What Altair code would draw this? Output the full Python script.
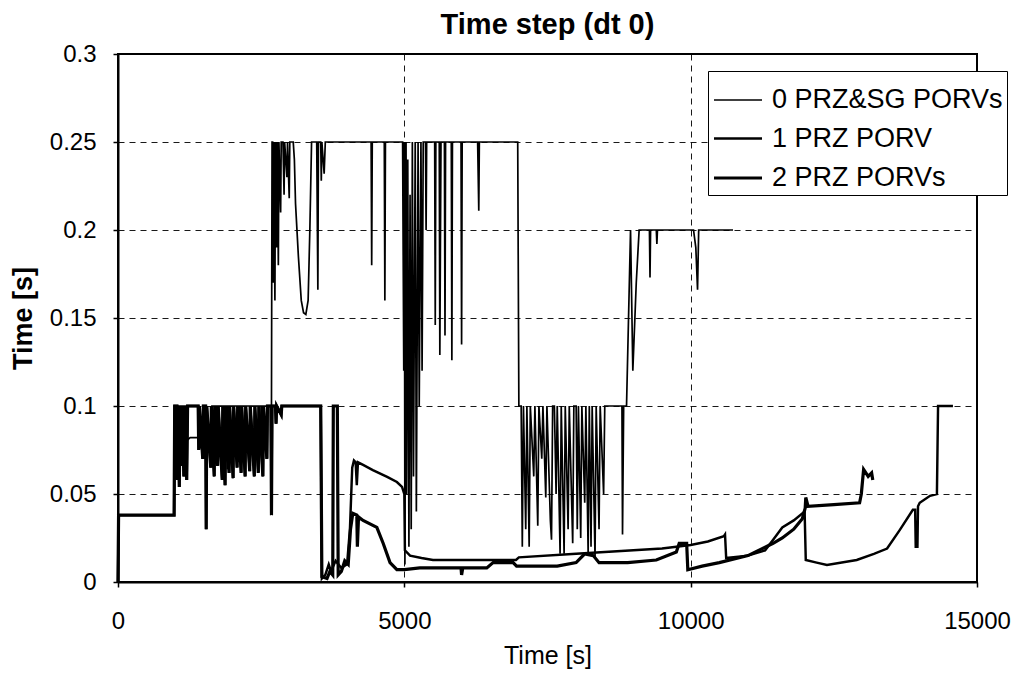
import altair as alt
import pandas as pd

series_names = ["0 PRZ&SG PORVs", "1 PRZ PORV", "2 PRZ PORVs"]
x_ticks = [0, 5000, 10000, 15000]
y_ticks = [0, 0.05, 0.1, 0.15, 0.2, 0.25, 0.3]

# shared start (0 - 3560 s)
start_t = [0, 10, 980, 990, 1030, 1040, 1050, 1070, 1085, 1110, 1120, 1150, 1165, 1200, 1215,
           1400, 1410, 1420, 1480, 1490, 1530, 1540, 1550, 1620, 1630, 1680, 1690, 1740, 1750,
           1820, 1830, 1870, 1880, 1940, 1950, 2010, 2020, 2080, 2090, 2150, 2160, 2220, 2230,
           2300, 2310, 2380, 2390, 2450, 2460, 2530, 2540, 2600, 2610, 2670, 2680]
start_y = [0.0, 0.038, 0.038, 0.1, 0.1, 0.058, 0.1, 0.054, 0.1, 0.066, 0.1, 0.06, 0.1, 0.058, 0.1,
           0.1, 0.075, 0.1, 0.07, 0.1, 0.1, 0.03, 0.1, 0.065, 0.1, 0.06, 0.1, 0.066, 0.1,
           0.058, 0.1, 0.055, 0.1, 0.062, 0.1, 0.059, 0.1, 0.065, 0.1, 0.062, 0.1, 0.06, 0.1,
           0.063, 0.1, 0.06, 0.1, 0.062, 0.1, 0.06, 0.1, 0.07, 0.1, 0.1, 0.038]

# 0 PRZ&SG PORVs (thin)
thin_t = [0, 10, 980, 990, 1060, 1070, 1080, 1180, 1190, 1260, 1600, 1620, 1640, 1700, 1710, 1720,
          1900, 1910, 1920, 2100, 2110, 2120, 2300, 2310, 2320, 2500, 2510, 2520, 2680,
          2690, 2700, 2710, 2720, 2740, 2750, 2770, 2780, 2800, 2810, 2840, 2850, 2880, 2900, 2910,
          2950, 2960, 2990, 3000, 3060, 3080, 3100, 3150, 3200, 3240, 3280, 3320, 3350, 3380,
          3470, 3490, 3500, 3540, 3550, 3560, 3600, 3620, 4420, 4430, 4440, 4650, 4660, 4670,
          4970, 4990, 5000, 5010, 5030, 5040, 5060, 5080, 5100, 5120, 5140, 5160, 5190, 5210,
          5240, 5260, 5290, 5310, 5330, 5370, 5380, 5390, 5530, 5540, 5550, 5610, 5620, 5640,
          5700, 5710, 5720, 5820, 5830, 5840, 5990, 6000, 6010, 6280, 6300, 6310, 6980, 7000,
          7040, 7060, 7080, 7120, 7140, 7180, 7200, 7260, 7280, 7330, 7350, 7400, 7420, 7470,
          7490, 7550, 7570, 7590, 7620, 7650, 7670, 7720, 7740, 7790, 7810, 7860, 7880, 7940,
          7960, 8000, 8020, 8040, 8080, 8100, 8150, 8170, 8210, 8230, 8260, 8280, 8330, 8350,
          8400, 8420, 8480, 8500, 8800, 8810, 8830, 8880, 8950, 8990, 9050, 9100, 9280, 9290,
          9300, 9400, 9410, 9420, 10050, 10090, 10120, 10140, 10740]
thin_y = [0.0, 0.038, 0.038, 0.1, 0.1, 0.07, 0.1, 0.1, 0.08, 0.082, 0.082, 0.068, 0.1, 0.1, 0.07, 0.1,
          0.1, 0.064, 0.1, 0.1, 0.068, 0.1, 0.1, 0.066, 0.1, 0.1, 0.07, 0.1, 0.1,
          0.25, 0.25, 0.17, 0.25, 0.16, 0.25, 0.19, 0.25, 0.18, 0.25, 0.21, 0.25, 0.25, 0.22, 0.25,
          0.23, 0.25, 0.218, 0.25, 0.25, 0.24, 0.215, 0.185, 0.16, 0.153, 0.152, 0.16, 0.2, 0.25,
          0.25, 0.166, 0.25, 0.25, 0.228, 0.25, 0.232, 0.25, 0.25, 0.18, 0.25, 0.25, 0.16, 0.25,
          0.25, 0.12, 0.25, 0.01, 0.25, 0.05, 0.24, 0.02, 0.22, 0.03, 0.25, 0.06, 0.25, 0.04,
          0.25, 0.1, 0.25, 0.12, 0.25, 0.25, 0.2, 0.25, 0.25, 0.146, 0.25, 0.25, 0.129, 0.25,
          0.25, 0.14, 0.25, 0.25, 0.126, 0.25, 0.25, 0.135, 0.25, 0.25, 0.211, 0.25, 0.25, 0.1,
          0.1, 0.02, 0.1, 0.03, 0.1, 0.02, 0.1, 0.06, 0.1, 0.032, 0.1, 0.07, 0.1, 0.048,
          0.1, 0.035, 0.024, 0.1, 0.1, 0.05, 0.1, 0.016, 0.1, 0.016, 0.1, 0.03, 0.1, 0.022,
          0.1, 0.1, 0.03, 0.1, 0.025, 0.1, 0.045, 0.1, 0.016, 0.1, 0.02, 0.1, 0.014, 0.1,
          0.03, 0.1, 0.05, 0.1, 0.1, 0.027, 0.1, 0.1, 0.2, 0.12, 0.17, 0.2, 0.2, 0.173,
          0.2, 0.2, 0.192, 0.2, 0.2, 0.19, 0.166, 0.2, 0.2]

# 1 PRZ PORV (medium)
med_t = start_t + [2690, 2750, 2760, 2770, 2850, 2860, 3540,
                   3560, 3620, 3680, 3720, 3800, 3900, 4000, 4050, 4090, 4120, 4150, 4170, 4190,
                   4280, 4450, 4700, 4870, 4960, 5000, 5010, 5100, 5300, 5500, 6950, 7000, 8000,
                   9000, 9500, 10000, 10300, 10580, 10600, 10620, 11000, 11300, 11440, 11600, 11800,
                   11990, 12010, 12200, 12380, 12900, 13200, 13430, 13650, 13880, 13920, 13930,
                   13960, 13970, 14000, 14180, 14300, 14320, 14580]
med_y = start_y + [0.1, 0.1, 0.09, 0.1, 0.095, 0.1, 0.1,
                   0.002, 0.004, 0.01, 0.006, 0.012, 0.008, 0.01, 0.03, 0.065, 0.069, 0.068, 0.055, 0.068,
                   0.0665, 0.0636, 0.0597, 0.0568, 0.054, 0.05, 0.018, 0.015, 0.0136, 0.0125, 0.0125, 0.014, 0.016,
                   0.018, 0.019, 0.021, 0.023, 0.026, 0.027, 0.0136, 0.015, 0.018, 0.024, 0.031, 0.035,
                   0.04, 0.0125, 0.011, 0.0097, 0.0125, 0.016, 0.019, 0.0295, 0.041, 0.041, 0.02,
                   0.02, 0.043, 0.045, 0.049, 0.05, 0.1, 0.1]

# 2 PRZ PORVs (thick)
thick_t = start_t + [2690, 2750, 2760, 2770, 2850, 2860, 3540,
                     3560, 3650, 3700, 3750, 3760, 3830, 3845, 3900, 3960, 4020, 4060, 4100, 4170,
                     4180, 4200, 4280, 4520, 4630, 4750, 4870, 5000, 5270, 5990, 6000, 6020, 6440,
                     6550, 6900, 6960, 7670, 8000, 8150, 8300, 8400, 8900, 9400, 9750, 9800, 9930,
                     9950, 10200, 10500, 11000, 11440, 11600, 11800, 11950, 12000, 12010, 12050,
                     12500, 12950, 12980, 13020, 13100, 13160, 13180]
thick_y = start_y + [0.1, 0.1, 0.09, 0.1, 0.095, 0.1, 0.1,
                     0.003, 0.002, 0.006, 0.004, 0.1, 0.1, 0.004, 0.006, 0.012, 0.01, 0.03, 0.039, 0.038,
                     0.02, 0.037, 0.035, 0.031, 0.022, 0.011, 0.007, 0.007, 0.008, 0.008, 0.004, 0.008, 0.008,
                     0.011, 0.011, 0.009, 0.009, 0.011, 0.016, 0.015, 0.011, 0.011, 0.0125, 0.017, 0.022, 0.022,
                     0.007, 0.009, 0.011, 0.015, 0.022, 0.025, 0.03, 0.036, 0.042, 0.048, 0.043,
                     0.044, 0.045, 0.05, 0.064, 0.06, 0.062, 0.058]

rows = []
for name, ts, ys in [(series_names[0], thin_t, thin_y),
                     (series_names[1], med_t, med_y),
                     (series_names[2], thick_t, thick_y)]:
    for i, (t, y) in enumerate(zip(ts, ys)):
        rows.append({"series": name, "t": t, "y": y, "idx": i})
df = pd.DataFrame(rows)

FONT = "Liberation Sans"

chart = alt.Chart(df).mark_line(color="black", interpolate="linear", strokeJoin="miter").encode(
    x=alt.X("t:Q", scale=alt.Scale(domain=[0, 15000], nice=False),
            axis=alt.Axis(values=x_ticks, format="d", title="Time [s]", labelFlush=False,
                          labelPadding=22, titlePadding=10, titleFontWeight="normal",
                          titleFontSize=25)),
    y=alt.Y("y:Q", scale=alt.Scale(domain=[0, 0.3], nice=False),
            axis=alt.Axis(values=y_ticks, labelExpr="format(datum.value, '.2~f')",
                          labelFlush=False, title="Time [s]", labelPadding=17, titlePadding=12,
                          titleFontWeight="bold", titleFontSize=27)),
    strokeWidth=alt.StrokeWidth("series:N",
                                scale=alt.Scale(domain=series_names, range=[1.7, 3.2, 5.0]),
                                legend=alt.Legend(title=None, orient="none", legendX=590, legendY=17,
                                                  symbolType="stroke", symbolSize=2304,
                                                  symbolStrokeColor="black", labelFont=FONT,
                                                  labelFontSize=27, labelColor="black",
                                                  strokeColor="black", fillColor="white",
                                                  padding=4, rowPadding=-6, labelOffset=8,
                                                  labelLimit=400)),
    detail="series:N",
    order="idx:Q",
).properties(
    width=859, height=528,
    title=alt.Title("Time step (dt 0)", font=FONT, fontSize=29, fontWeight="bold",
                    color="black", offset=2),
    autosize=alt.AutoSizeParams(type="none"),
    padding={"left": 110, "top": 46, "right": 35, "bottom": 90},
).configure_view(
    stroke="black", strokeWidth=2
).configure_axis(
    labelFont=FONT, labelFontSize=24, labelColor="black",
    titleFont=FONT, titleColor="black",
    grid=True, gridColor="black", gridDash=[6, 5], gridWidth=1, gridOpacity=0.9,
    domainColor="black", domainWidth=2, tickColor="black", tickSize=5, tickWidth=1.5,
)

chart.save("out.html", embed_options={"renderer": "svg", "actions": False})
